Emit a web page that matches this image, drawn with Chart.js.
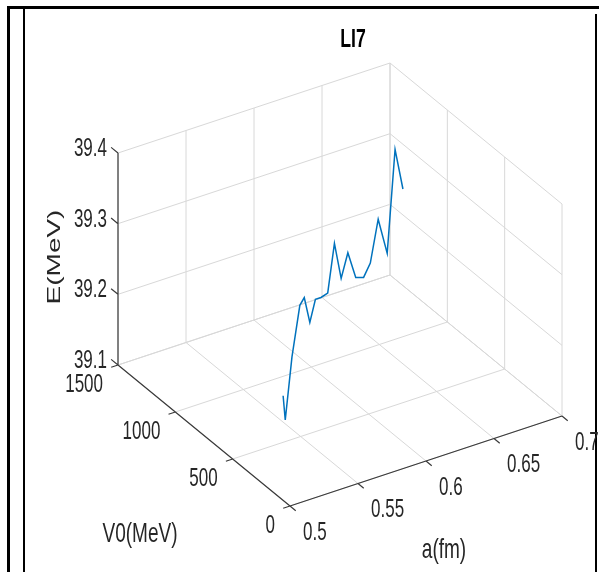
<!DOCTYPE html>
<html>
<head>
<meta charset="utf-8">
<script src="https://cdn.jsdelivr.net/npm/chart.js@4.4.0/dist/chart.umd.min.js"></script>
<style>
  html, body { margin: 0; padding: 0; background: #fff; }
  #wrap { width: 600px; height: 572px; }
</style>
</head>
<body>
<div id="wrap"><canvas id="chart"></canvas></div>
<script>
// labels
const chartTitle = 'LI7';
const aLabel = 'a(fm)';
const vLabel = 'V0(MeV)';
const eLabel = 'E(MeV)';

// tick values of the three axes
const aTicks = [0.5, 0.55, 0.6, 0.65, 0.7];
const vTicks = [0, 500, 1000, 1500];
const eTicks = [39.1, 39.2, 39.3, 39.4];

// the curve (a, V0, E)
const aValues = [0.50, 0.51, 0.52, 0.53, 0.54, 0.55, 0.56, 0.57, 0.58, 0.59,
                 0.60, 0.61, 0.62, 0.63, 0.64, 0.65, 0.66, 0.67, 0.68];
const v0Values = [60, 160, 220, 270, 350, 420, 490, 560, 620, 680,
                  740, 800, 850, 900, 960, 1010, 1050, 1100, 1150];
const eValues = [39.248, 39.194, 39.269, 39.329, 39.323, 39.272, 39.289, 39.276, 39.268, 39.324,
                 39.260, 39.282, 39.234, 39.221, 39.227, 39.276, 39.216, 39.350, 39.281];

const aMin = aTicks[0], aMax = aTicks[aTicks.length - 1];
const vMin = vTicks[0], vMax = vTicks[vTicks.length - 1];
const eMin = eTicks[0], eMax = eTicks[eTicks.length - 1];

// orthographic view (az -37.5, el 30) mapped onto the flat x/y scales
function proj(a, v, e) {
    const u = (a - aMin) / (aMax - aMin);
    const w = (v - vMin) / (vMax - vMin);
    const h = (e - eMin) / (eMax - eMin);
    return { x: 290 + 272 * u - 172 * w, y: 506 - 90 * u - 141 * w - 212 * h };
}

function addSeg(list, p, q) {
    list.push(proj(p[0], p[1], p[2]), proj(q[0], q[1], q[2]), { x: null, y: null });
}

// grid on floor and the two back walls
const gridPts = [];
aTicks.forEach(a => {
    addSeg(gridPts, [a, vMin, eMin], [a, vMax, eMin]);
    addSeg(gridPts, [a, vMax, eMin], [a, vMax, eMax]);
});
vTicks.forEach(v => {
    addSeg(gridPts, [aMin, v, eMin], [aMax, v, eMin]);
    addSeg(gridPts, [aMax, v, eMin], [aMax, v, eMax]);
});
eTicks.forEach(e => {
    addSeg(gridPts, [aMin, vMax, e], [aMax, vMax, e]);
    addSeg(gridPts, [aMax, vMin, e], [aMax, vMax, e]);
});

// axis lines and tick marks
const axisPts = [];
addSeg(axisPts, [aMin, vMin, eMin], [aMax, vMin, eMin]);
addSeg(axisPts, [aMin, vMin, eMin], [aMin, vMax, eMin]);
addSeg(axisPts, [aMin, vMax, eMin], [aMin, vMax, eMax]);
aTicks.forEach(a => addSeg(axisPts, [a, vMin, eMin], [a, vMin - 50, eMin]));
vTicks.forEach(v => addSeg(axisPts, [aMin, v, eMin], [aMin - 0.005, v, eMin]));
eTicks.forEach(e => addSeg(axisPts, [aMin, vMax, e], [aMin, vMax + 60, e]));

const curvePts = aValues.map((a, i) => proj(a, v0Values[i], eValues[i]));

const SX = 0.68;
const FONT = '"Liberation Sans", Arial, sans-serif';

function drawText(ctx, str, x, y, align, rotate) {
    ctx.save();
    ctx.translate(x, y);
    ctx.scale(SX, 1);
    if (rotate) ctx.rotate(-Math.PI / 2);
    ctx.textAlign = align;
    ctx.textBaseline = 'middle';
    ctx.fillText(str, 0, 0);
    ctx.restore();
}

const framePlugin = {
    id: 'frame',
    beforeDraw(chart) {
        const ctx = chart.ctx;
        ctx.save();
        ctx.fillStyle = '#fff';
        ctx.fillRect(0, 0, chart.width, chart.height);
        ctx.fillStyle = '#000';
        ctx.fillRect(7, 6, 592, 3);
        ctx.fillRect(7, 6, 3, 566);
        ctx.fillRect(23, 9, 2, 563);
        ctx.fillRect(595, 14, 2, 558);
        ctx.restore();
    }
};

const labelPlugin = {
    id: 'labels3d',
    afterDraw(chart) {
        const ctx = chart.ctx;
        const sx = chart.scales.x, sy = chart.scales.y;
        const at = p => ({ x: sx.getPixelForValue(p.x), y: sy.getPixelForValue(p.y) });
        ctx.save();
        ctx.fillStyle = '#262626';
        ctx.font = '25px ' + FONT;
        eTicks.forEach(e => {
            const p = at(proj(aMin, vMax, e));
            drawText(ctx, e.toFixed(1), p.x - 11, p.y - 4, 'right');
        });
        vTicks.forEach(v => {
            const p = at(proj(aMin, v, eMin));
            drawText(ctx, String(v), p.x - 15, p.y + 20, 'right');
        });
        aTicks.forEach(a => {
            const p = at(proj(a, vMin, eMin));
            drawText(ctx, String(a), p.x + 13, p.y + 27, 'left');
        });
        ctx.font = '28px ' + FONT;
        drawText(ctx, eLabel, 55, 257, 'center', true);
        drawText(ctx, vLabel, 140, 534, 'center');
        drawText(ctx, aLabel, 444, 550, 'center');
        ctx.font = 'bold 26px ' + FONT;
        ctx.fillStyle = '#000';
        drawText(ctx, chartTitle, 353, 40, 'center');
        ctx.restore();
    }
};

new Chart(document.getElementById('chart'), {
    type: 'scatter',
    data: {
        datasets: [
            {
                label: 'E',
                data: curvePts,
                showLine: true,
                borderColor: '#0072BD',
                borderWidth: 1.5,
                pointRadius: 0,
                spanGaps: false,
                order: 0
            },
            {
                label: 'axes',
                data: axisPts,
                showLine: true,
                borderColor: '#3a3a3a',
                borderWidth: 1.2,
                pointRadius: 0,
                spanGaps: false,
                order: 1
            },
            {
                label: 'grid',
                data: gridPts,
                showLine: true,
                borderColor: '#d8d8d8',
                borderWidth: 1,
                pointRadius: 0,
                spanGaps: false,
                order: 2
            }
        ]
    },
    options: {
        responsive: true,
        maintainAspectRatio: false,
        animation: false,
        layout: { padding: 0 },
        plugins: {
            legend: { display: false },
            tooltip: { enabled: false },
            title: { display: false }
        },
        scales: {
            x: { type: 'linear', min: 0, max: 600, display: false },
            y: { type: 'linear', min: 0, max: 572, reverse: true, display: false }
        }
    },
    plugins: [framePlugin, labelPlugin]
});
</script>
</body>
</html>
